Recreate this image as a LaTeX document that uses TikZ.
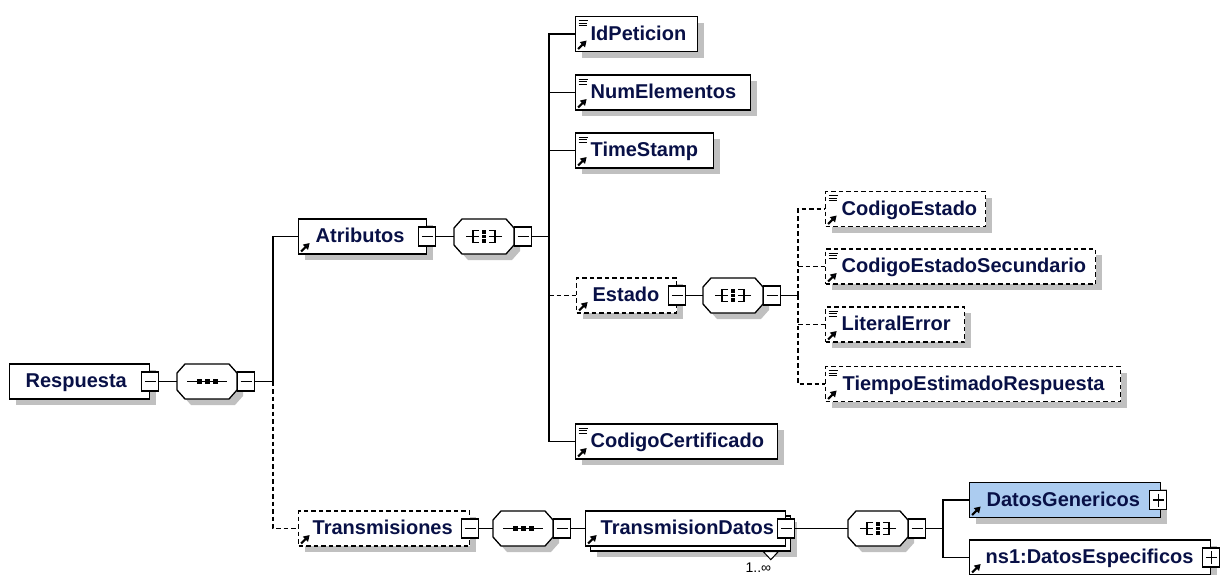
\documentclass[tikz,border=0pt]{standalone}
\usepackage{fontspec}
\setmainfont{Liberation Sans}
\usetikzlibrary{shadows,arrows.meta,calc}
\definecolor{txt}{RGB}{8,16,70}
\definecolor{shd}{RGB}{192,192,192}
\definecolor{hl}{RGB}{172,204,240}
\tikzset{
  box/.style={draw, fill=white, line width=1.3pt, inner xsep=0pt, inner ysep=0pt,
    minimum height=35pt, text height=15pt, text depth=3pt, align=left, anchor=west,
    font=\bfseries\fontsize{20}{24}\selectfont, text=txt},
  shadowed/.style={drop shadow={shadow xshift=6pt, shadow yshift=-6pt, fill=shd, opacity=1}},
  opt/.style={dash pattern=on 4.5pt off 3pt},
  cplx/.style={path picture={
    \draw[solid, line width=2.2pt, -{Triangle[length=6pt,width=7pt]}]
      ([shift={(2.5,-2.5)}]path picture bounding box.south west) -- ++(8.5,-8.5);}},
  leaf/.style={path picture={
    \draw[solid, line width=2.2pt, -{Triangle[length=6pt,width=7pt]}]
      ([shift={(2.5,-2.5)}]path picture bounding box.south west) -- ++(8.5,-8.5);
    \draw[solid, line width=0.9pt]
      ([shift={(3,4)}]path picture bounding box.north west) -- ++(9,0)
      ([shift={(3,6.5)}]path picture bounding box.north west) -- ++(8,0)
      ([shift={(3,9)}]path picture bounding box.north west) -- ++(8,0);}},
  mbox/.style={draw, solid, fill=white, line width=1.2pt, minimum width=17pt,
    minimum height=19pt, inner sep=0pt, outer sep=0pt, path picture={
    \draw[line width=1.1pt] ([shift={(3,0)}]path picture bounding box.west) --
      ([shift={(-3,0)}]path picture bounding box.east);}},
  pbox/.style={mbox, path picture={
    \draw[line width=1.1pt] ([shift={(3,0)}]path picture bounding box.west) --
      ([shift={(-3,0)}]path picture bounding box.east)
      ([shift={(0,3)}]path picture bounding box.north) --
      ([shift={(0,-3)}]path picture bounding box.south);}},
  oct/.style={draw=none, minimum width=60pt, minimum height=35pt, inner sep=0pt,
    outer sep=0pt, anchor=west},
}
\newcommand\octpath[3]{([shift={(8+#2,#3)}]#1.north west) -- ([shift={(-8+#2,#3)}]#1.north east) -- ([shift={(#2,9+#3)}]#1.north east) -- ([shift={(#2,-9+#3)}]#1.south east) -- ([shift={(-8+#2,#3)}]#1.south east) -- ([shift={(8+#2,#3)}]#1.south west) -- ([shift={(#2,-9+#3)}]#1.south west) -- ([shift={(#2,9+#3)}]#1.north west) -- cycle}
\newcommand\seqsym[1]{%
  \draw[line width=1.2pt] ([shift={(-20,0)}]#1.center) -- ([shift={(20,0)}]#1.center);
  \foreach \dx in {-8,0,8}{\fill ([shift={(\dx-2.5,-2.5)}]#1.center) rectangle ++(5,5);}}
\newcommand\chosym[1]{%
  \draw[line width=1.2pt] ([shift={(-18,0)}]#1.center) -- ([shift={(-5,0)}]#1.center)
    ([shift={(-5,-6)}]#1.center) -- ([shift={(-11,-6)}]#1.center) -- ([shift={(-11,6)}]#1.center) -- ([shift={(-5,6)}]#1.center)
    ([shift={(18,0)}]#1.center) -- ([shift={(5,0)}]#1.center)
    ([shift={(5,-6)}]#1.center) -- ([shift={(11,-6)}]#1.center) -- ([shift={(11,6)}]#1.center) -- ([shift={(5,6)}]#1.center);
  \foreach \dy in {-4.6,0,4.6}{\fill ([shift={(-2.2,\dy-1.9)}]#1.center) rectangle ++(4.4,3.8);}}
\newcommand\compo[2]{%
  \fill[shd] \octpath{#1}{6}{6};
  \draw[fill=white, line width=1.3pt] \octpath{#1}{0}{0};
  #2{#1}}
\begin{document}
\begin{tikzpicture}[x=1pt,y=-1pt, line width=1.3pt]
\fill[white] (0,0) rectangle (1224,574);
\useasboundingbox (0,0) rectangle (1224,574);
\clip (0,0) rectangle (1224,574);

% root
\node[box, shadowed, text width=140pt] (resp) at (9,381.5) {\hspace*{16pt}Respuesta};
\node[mbox] (respm) at (resp.east) {};
\node[oct] (seqA) at (177,381.5) {};
\draw (respm.east) -- (seqA.west);
\compo{seqA}{\seqsym}
\node[mbox] (seqAm) at ([shift={(9,0)}]seqA.east) {};
\coordinate (j1) at (273,381.5);
\draw (seqAm.east) -- (j1);

% Atributos
\node[box, shadowed, cplx, text width=128pt] (atr) at (298,236.5) {\hspace*{17pt}Atributos};
\node[mbox] (atrm) at (atr.east) {};
\node[oct] (chA) at (454,236.5) {};
\draw (atrm.east) -- (chA.west);
\compo{chA}{\chosym}
\node[mbox] (chAm) at ([shift={(9,0)}]chA.east) {};
\coordinate (j2) at (549,236.5);
\draw (chAm.east) -- (j2);

\node[box, shadowed, leaf, text width=122pt] (idp) at (575,34) {\hspace*{15pt}IdPeticion};
\node[box, shadowed, leaf, text width=175pt] (nel) at (575,92.5) {\hspace*{15pt}NumElementos};
\node[box, shadowed, leaf, text width=138pt] (tst) at (575,150.5) {\hspace*{15pt}TimeStamp};
\node[box, shadowed, cplx, opt, text width=100pt] (est) at (576,295.5) {\hspace*{16pt}Estado};
\node[mbox] (estm) at (est.east) {};
\node[box, shadowed, leaf, text width=202pt] (cer) at (575,441.5) {\hspace*{15pt}CodigoCertificado};

\draw (j1) |- (atr.west);
\draw (j2) |- (idp.west);
\draw (j2) |- (cer.west);
\draw (j2 |- nel.west) -- (nel.west);
\draw (j2 |- tst.west) -- (tst.west);
\draw[opt] (j2 |- est.west) -- (est.west);

% Estado
\node[oct] (chB) at (703,295.5) {};
\draw (estm.east) -- (chB.west);
\compo{chB}{\chosym}
\node[mbox] (chBm) at ([shift={(9,0)}]chB.east) {};
\coordinate (j3) at (798,295.5);
\draw (chBm.east) -- (j3);

\node[box, shadowed, leaf, opt, text width=160pt] (ce) at (825,209) {\hspace*{16pt}CodigoEstado};
\node[box, shadowed, leaf, opt, text width=270pt] (ces) at (825,266.5) {\hspace*{16pt}CodigoEstadoSecundario};
\node[box, shadowed, leaf, opt, text width=139pt] (lit) at (825,324.5) {\hspace*{16pt}LiteralError};
\node[box, shadowed, leaf, opt, text width=295pt] (ter) at (825,384) {\hspace*{17pt}TiempoEstimadoRespuesta};
\draw[opt] (j3) |- (ce.west);
\draw[opt] (j3) |- (ter.west);
\draw[opt] (j3 |- ces.west) -- (ces.west);
\draw[opt] (j3 |- lit.west) -- (lit.west);

% Transmisiones
\node[box, shadowed, cplx, opt, text width=171pt] (trn) at (298,528.5) {\hspace*{14pt}Transmisiones};
\node[mbox] (trnm) at (trn.east) {};
\draw[opt] (j1) |- (trn.west);
\node[oct] (seqB) at (493,528.5) {};
\draw (trnm.east) -- (seqB.west);
\compo{seqB}{\seqsym}
\node[mbox] (seqBm) at ([shift={(9,0)}]seqB.east) {};

\node[box, cplx, text width=200pt,
  drop shadow={shadow xshift=11pt, shadow yshift=-11pt, fill=shd, opacity=1},
  copy shadow={shadow xshift=5pt, shadow yshift=-5pt, draw, fill=white}]
  (tdat) at (585,528.5) {\hspace*{15pt}TransmisionDatos};
\draw (seqBm.east) -- (tdat.west);
\node[mbox] (tdatm) at (tdat.east) {};
\draw[fill=white, line width=1pt] ([shift={(-23,5)}]tdat.south east) -- ([shift={(-8,5)}]tdat.south east)
  -- ([shift={(-15.5,13)}]tdat.south east) -- cycle;
\node[anchor=base west, inner sep=0pt, font=\fontsize{14}{16}\selectfont] (occ) at (745,572.5) {1..∞};

\node[oct] (chC) at (848,528.5) {};
\draw (tdatm.east) -- (chC.west);
\compo{chC}{\chosym}
\node[mbox] (chCm) at ([shift={(9,0)}]chC.east) {};
\coordinate (j4) at (943,528.5);
\draw (chCm.east) -- (j4);

\node[box, shadowed, cplx, fill=hl, text width=191pt] (dg) at (969,500) {\hspace*{17pt}DatosGenericos};
\node[pbox] (dgp) at ([shift={(-3,0)}]dg.east) {};
\node[box, shadowed, cplx, text width=241pt] (de) at (969,557.5) {\hspace*{16pt}ns1:DatosEspecificos};
\node[pbox] (dep) at (de.east) {};
\draw (j4) |- (dg.west);
\draw (j4) |- (de.west);
\end{tikzpicture}
\end{document}
